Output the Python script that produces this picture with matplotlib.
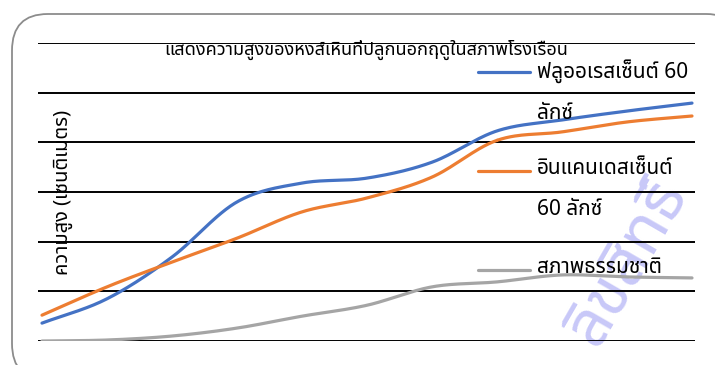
import numpy as np
import matplotlib
matplotlib.use("Agg")
import matplotlib.pyplot as plt
from matplotlib.lines import Line2D
from matplotlib.patches import FancyBboxPatch

weeks = [1, 2, 3, 4, 5, 6, 7, 8, 9, 10, 11]
fluorescent = [3.6, 8.5, 16.9, 28.0, 31.8, 32.8, 36.0, 42.3, 44.5, 46.3, 47.9]
incandescent = [5.2, 10.9, 15.9, 20.7, 26.0, 28.8, 33.0, 40.4, 42.1, 44.1, 45.3]
natural = [0.0, 0.2, 1.0, 2.6, 5.0, 7.2, 10.9, 11.9, 13.3, 12.9, 12.7]

series_labels = ["ฟลูออเรสเซ็นต์ 60\nลักซ์", "อินแคนเดสเซ็นต์\n60 ลักซ์", "สภาพธรรมชาติ"]
title = "แสดงความสูงของหงส์เหินที่ปลูกนอกฤดูในสภาพโรงเรือน"
ylabel = "ความสูง (เซนติเมตร)"
yticks = [0, 10, 20, 30, 40, 50, 60]

colors = ["#4472C4", "#ED7D31", "#A5A5A5"]

plt.rcParams['font.family'] = ['Noto Sans Thai', 'Noto Sans Thai UI', 'Loma', 'Garuda',
                               'Tlwg Typo', 'Norasi', 'DejaVu Sans']


def smooth(x, y, n=30):
    # catmull-rom curve through the points, like excel's smoothed line
    x = np.asarray(x, float)
    y = np.asarray(y, float)
    px = np.concatenate([[2 * x[0] - x[1]], x, [2 * x[-1] - x[-2]]])
    py = np.concatenate([[2 * y[0] - y[1]], y, [2 * y[-1] - y[-2]]])
    xs, ys = [], []
    t = np.linspace(0, 1, n)
    for i in range(1, len(px) - 2):
        for p, out in ((px, xs), (py, ys)):
            p0, p1, p2, p3 = p[i - 1], p[i], p[i + 1], p[i + 2]
            out.append(0.5 * (2 * p1 + (-p0 + p2) * t
                              + (2 * p0 - 5 * p1 + 4 * p2 - p3) * t ** 2
                              + (-p0 + 3 * p1 - 3 * p2 + p3) * t ** 3))
    return np.concatenate(xs), np.concatenate(ys)


W, H = 715, 365
fig = plt.figure(figsize=(W / 100, H / 100), dpi=100)

def fx(px):
    return px / W

def fy(py):
    return 1 - py / H

# rounded chart border
fig.patches.append(FancyBboxPatch((fx(12), fy(380)), fx(730), fy(14) - fy(380),
                                  boxstyle="round,pad=0,rounding_size=0.05",
                                  transform=fig.transFigure, fc="white",
                                  ec="#8c8c8c", lw=1.3, mutation_aspect=2.0,
                                  zorder=-5))

# faint watermark behind everything
fig.text(fx(628), fy(262), "ลิขสิทธิ์", color="#c8c8f8", fontsize=46,
         rotation=60, ha="center", va="center", zorder=-4)

ax = fig.add_axes([fx(38), fy(341), fx(695) - fx(38), fy(43) - fy(341)])
ax.set_facecolor("none")

for val in yticks:
    ax.axhline(val, color="black", lw=1.4, zorder=1)

for vals, c in zip([fluorescent, incandescent, natural], colors):
    sx, sy = smooth(weeks, vals)
    ax.plot(sx, sy, color=c, lw=2.3, solid_capstyle="round", zorder=3)

step = 65.0
ax.set_xlim(weeks[0] - 4 / step, weeks[-1] + 3 / step)
ax.set_ylim(yticks[0], yticks[-1])
ax.set_xticks([])
ax.set_yticks([])
for s in ax.spines.values():
    s.set_visible(False)

fig.text(fx(366), fy(50), title, ha="center", va="center", fontsize=13)
fig.text(fx(63), fy(192), ylabel, ha="center", va="center", rotation=90,
         fontsize=14.5, fontweight="bold")

# legend drawn by hand, overlapping the plot like the original
leg_y = [72, 171, 270]
for lab, c, yy in zip(series_labels, colors, leg_y):
    fig.add_artist(Line2D([fx(478), fx(530)], [fy(yy), fy(yy)], color=c, lw=2.3,
                          solid_capstyle="round", transform=fig.transFigure))
    fig.text(fx(537), fy(yy - 13), lab, ha="left", va="top", fontsize=15,
             linespacing=2.25)

fig.savefig("out.png", dpi=100)
